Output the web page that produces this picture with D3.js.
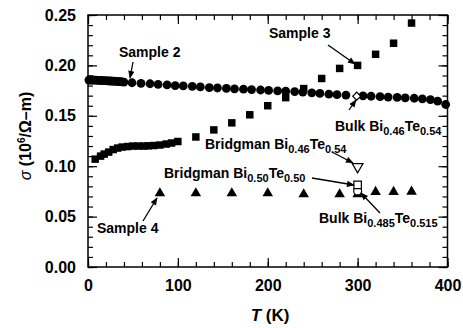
<!DOCTYPE html>
<html lang="en">
<head>
<meta charset="UTF-8">
<title>Conductivity vs temperature</title>
<style>
  body { margin: 0; background: #fff; }
  text { font-family: "Liberation Sans", Arial, sans-serif; font-weight: bold; fill: #000; }
</style>
</head>
<body>
<div id="chart"></div>
<script src="https://d3js.org/d3.v7.min.js"></script>
<script>
// Sample 2 (filled circles): [T, sigma]
const sample2 = [[1,0.1855],[3,0.1855],[5,0.1855],[7,0.1854],[9,0.1853],[11,0.1852],[13,0.1851],[15,0.185],[17,0.1849],[19,0.1848],
  [21,0.1847],[23,0.1846],[25,0.1845],[27,0.1844],[29,0.1843],[31,0.1842],[33,0.1841],[35,0.184],[37,0.1838],[40,0.1835],
  [49,0.1828],[59,0.1822],[69,0.1818],[78,0.1812],[88,0.1806],[97,0.18],[106,0.1796],[116,0.1792],[125,0.1786],[135,0.178],
  [144,0.1776],[154,0.1772],[163,0.1768],[173,0.1764],[182,0.176],[192,0.1756],[201,0.1752],[211,0.1747],[220,0.1744],
  [230,0.174],[239,0.1735],[249,0.1728],[258,0.1722],[268,0.1715],[277,0.171],[287,0.1706],[306,0.1698],[315,0.1694],
  [325,0.169],[334,0.1686],[344,0.1682],[353,0.1678],[363,0.1674],[372,0.1668],[381,0.166],[389,0.1645],[398,0.1612]];
// Sample 3 (filled squares)
const sample3 = [[8,0.107],[14,0.110],[18,0.112],[23,0.114],[28,0.1165],[33,0.118],[38,0.119],[44,0.1195],[50,0.120],
  [56,0.120],[62,0.120],[67,0.1202],[73,0.1205],[80,0.121],[87,0.122],[93,0.123],[100,0.1245],[120,0.129],[140,0.136],
  [160,0.143],[180,0.151],[200,0.160],[220,0.168],[240,0.177],[260,0.187],[280,0.197],[300,0.200],[320,0.211],[340,0.222],[360,0.242]];
// Sample 4 (filled triangles)
const sample4 = [[80,0.0722],[120,0.0722],[160,0.0722],[200,0.0722],[240,0.0712],[280,0.0712],[300,0.0712],[320,0.0735],[340,0.0735],[360,0.0738]];
// single open markers at 300 K
const bulk046 = [[299,0.1695]];
const bridgman046 = [[300,0.0995]];
const bridgman050 = [[300,0.0815]];
const bulk0485 = [[300,0.0755]];

const xMajor = [0, 100, 200, 300, 400];
const xMinor = d3.range(0, 401, 20);
const yMajor = [0, 0.05, 0.10, 0.15, 0.20, 0.25];
const yMinor = d3.range(0, 0.2501, 0.01);

const W = 463, H = 328;
const svg = d3.select("#chart").append("svg").attr("width", W).attr("height", H);

const x = d3.scaleLinear().domain([0, 400]).range([88, 447.5]);
const y = d3.scaleLinear().domain([0, 0.25]).range([267, 15]);

// arrow head
svg.append("defs").append("marker")
  .attr("id", "arr").attr("viewBox", "0 0 10 10").attr("refX", 9).attr("refY", 5)
  .attr("markerWidth", 7).attr("markerHeight", 6).attr("orient", "auto")
  .append("path").attr("d", "M0,1 L10,5 L0,9 Z").attr("fill", "#000");

function tickAxis(axis, pos, transform) {
  const g = svg.append("g").attr("transform", transform).call(axis);
  g.select(".domain").remove();
  g.selectAll(".tick line").attr("stroke", "#000").attr("stroke-width", 1.2);
  return g;
}

// minor ticks on all four sides
tickAxis(d3.axisBottom(x).tickValues(xMinor).tickSize(-5).tickFormat(""), "b", `translate(0,${y(0)})`);
tickAxis(d3.axisTop(x).tickValues(xMinor).tickSize(-5).tickFormat(""), "t", `translate(0,${y(0.25)})`);
tickAxis(d3.axisLeft(y).tickValues(yMinor).tickSize(-5).tickFormat(""), "l", `translate(${x(0)},0)`);
tickAxis(d3.axisRight(y).tickValues(yMinor).tickSize(-5).tickFormat(""), "r", `translate(${x(400)},0)`);

// major ticks with labels
const xb = tickAxis(d3.axisBottom(x).tickValues(xMajor).tickSizeInner(-9).tickSizeOuter(0).tickPadding(13)
  .tickFormat(d3.format("d")), "b", `translate(0,${y(0)})`);
tickAxis(d3.axisTop(x).tickValues(xMajor).tickSizeInner(-9).tickSizeOuter(0).tickFormat(""), "t", `translate(0,${y(0.25)})`);
const yl = tickAxis(d3.axisLeft(y).tickValues(yMajor).tickSizeInner(-9).tickSizeOuter(0).tickPadding(12)
  .tickFormat(d3.format(".2f")), "l", `translate(${x(0)},0)`);
tickAxis(d3.axisRight(y).tickValues(yMajor).tickSizeInner(-9).tickSizeOuter(0).tickFormat(""), "r", `translate(${x(400)},0)`);
xb.selectAll("text").attr("font-size", 16).attr("font-family", "Liberation Sans, Arial, sans-serif").attr("font-weight", "bold");
yl.selectAll("text").attr("font-size", 16).attr("font-family", "Liberation Sans, Arial, sans-serif").attr("font-weight", "bold");

// frame
svg.append("rect").attr("x", x(0)).attr("y", y(0.25))
  .attr("width", x(400) - x(0)).attr("height", y(0) - y(0.25))
  .attr("fill", "none").attr("stroke", "#000").attr("stroke-width", 1.5);

// axis titles
const xt = svg.append("text").attr("x", 270).attr("y", 321).attr("text-anchor", "middle").attr("font-size", 17);
xt.append("tspan").attr("font-style", "italic").text("T");
xt.append("tspan").text(" (K)");

const yt = svg.append("text").attr("transform", "translate(31,136) rotate(-90)")
  .attr("text-anchor", "middle").attr("font-size", 16);
yt.append("tspan").attr("font-style", "italic").attr("font-weight", "normal").text("σ");
yt.append("tspan").text(" (10");
yt.append("tspan").attr("font-size", 10).attr("dy", -6).text("6");
yt.append("tspan").attr("dy", 6).text("/Ω–m)");

// data marks
const sym = (type, size) => d3.symbol().type(type).size(size);
svg.append("g").selectAll("path").data(sample3).join("path")
  .attr("transform", d => `translate(${x(d[0])},${y(d[1])})`)
  .attr("d", sym(d3.symbolSquare, 56)).attr("fill", "#000");
svg.append("g").selectAll("circle").data(sample2).join("circle")
  .attr("cx", d => x(d[0])).attr("cy", d => y(d[1])).attr("r", 4.4).attr("fill", "#000");
svg.append("g").selectAll("path").data(sample4).join("path")
  .attr("transform", d => `translate(${x(d[0])},${y(d[1]) - 1})`)
  .attr("d", sym(d3.symbolTriangle, 48)).attr("fill", "#000");

svg.append("g").selectAll("path").data(bulk046).join("path")
  .attr("transform", d => `translate(${x(d[0])},${y(d[1])}) rotate(45)`)
  .attr("d", sym(d3.symbolSquare, 32)).attr("fill", "#fff").attr("stroke", "#000").attr("stroke-width", 1.2);
svg.append("g").selectAll("path").data(bulk0485).join("circle")
  .attr("cx", d => x(d[0])).attr("cy", d => y(d[1])).attr("r", 4)
  .attr("fill", "#fff").attr("stroke", "#000").attr("stroke-width", 1.2);
svg.append("g").selectAll("path").data(bridgman050).join("path")
  .attr("transform", d => `translate(${x(d[0])},${y(d[1])})`)
  .attr("d", sym(d3.symbolSquare, 56)).attr("fill", "#fff").attr("stroke", "#000").attr("stroke-width", 1.2);
svg.append("g").selectAll("path").data(bridgman046).join("path")
  .attr("transform", d => `translate(${x(d[0])},${y(d[1])}) rotate(180)`)
  .attr("d", sym(d3.symbolTriangle, 50)).attr("fill", "#fff").attr("stroke", "#000").attr("stroke-width", 1.2);

// annotations: label parts [text, isSub], text position, arrow from/to
const notes = [
  { parts: [["Sample 2", 0]], at: [119, 57], from: [133, 62], to: [130, 78] },
  { parts: [["Sample 3", 0]], at: [269, 38], from: [328, 45], to: [355, 64] },
  { parts: [["Bulk Bi", 0], ["0.46", 1], ["Te", 0], ["0.54", 1]], at: [335, 131], from: [349, 110], to: [356, 100] },
  { parts: [["Bridgman Bi", 0], ["0.46", 1], ["Te", 0], ["0.54", 1]], at: [205, 149], from: [332, 152], to: [353, 163] },
  { parts: [["Bridgman Bi", 0], ["0.50", 1], ["Te", 0], ["0.50", 1]], at: [164, 178], from: [312, 178], to: [354, 185] },
  { parts: [["Bulk Bi", 0], ["0.485", 1], ["Te", 0], ["0.515", 1]], at: [319, 223], from: [380, 213], to: [361, 193] },
  { parts: [["Sample 4", 0]], at: [97, 233], from: [143, 221], to: [157, 198] }
];
notes.forEach(n => {
  const t = svg.append("text").attr("x", n.at[0]).attr("y", n.at[1]).attr("font-size", 14);
  let down = 0;
  n.parts.forEach(p => {
    const dy = p[1] ? 4 - down : -down;
    down += dy;
    t.append("tspan").attr("dy", dy).attr("font-size", p[1] ? 11 : 14).text(p[0]);
  });
  svg.append("line").attr("x1", n.from[0]).attr("y1", n.from[1]).attr("x2", n.to[0]).attr("y2", n.to[1])
    .attr("stroke", "#000").attr("stroke-width", 1.3).attr("marker-end", "url(#arr)");
});
</script>
</body>
</html>
